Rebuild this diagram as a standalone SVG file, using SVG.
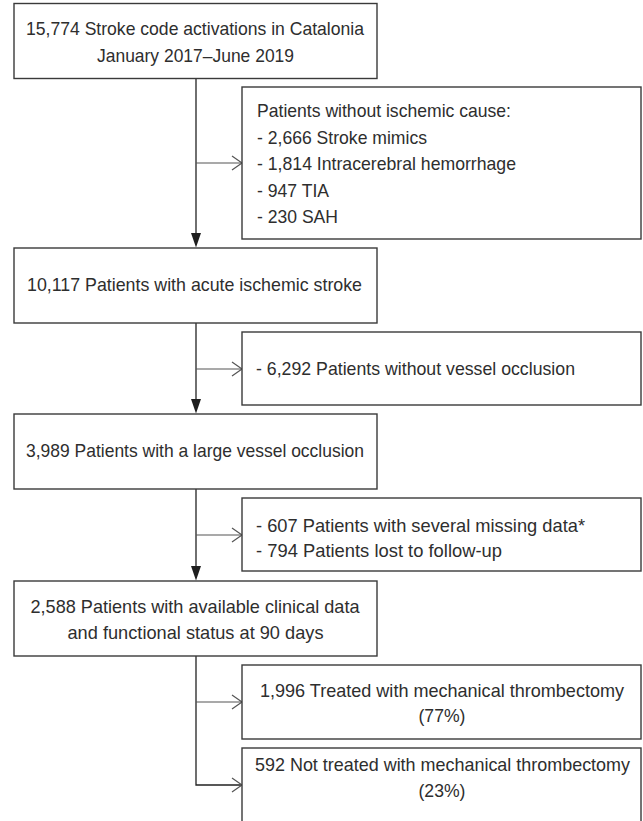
<svg xmlns="http://www.w3.org/2000/svg" width="643" height="821" viewBox="0 0 643 821">
<style>
.box{fill:#fff;stroke:#3a3a3a;stroke-width:1.4}
.t{font-family:"Liberation Sans",Arial,sans-serif;font-size:18.6px;fill:#2e2e2e}
.c{text-anchor:middle}
.v{stroke:#222;stroke-width:1.3;fill:none}
.h{stroke:#555;stroke-width:1.2;fill:none}
.head{fill:#1e1e1e;stroke:none}
</style>
<rect width="643" height="821" fill="#fff"/>
<g id="connectors">
<line class="v" x1="196" y1="78" x2="196" y2="235"/>
<polygon class="head" points="191,233 201,233 196,247.5"/>
<line class="h" x1="196" y1="163" x2="242" y2="163"/>
<polyline class="h" points="232,156 242,163 232,170"/>
<line class="v" x1="196" y1="323" x2="196" y2="400"/>
<line class="h" x1="196" y1="369" x2="242" y2="369"/>
<polyline class="h" points="232,362 242,369 232,376"/>
<polygon class="head" points="191,399 201,399 196,413.5"/>
<line class="v" x1="196" y1="489" x2="196" y2="568"/>
<line class="h" x1="196" y1="535" x2="242" y2="535"/>
<polyline class="h" points="232,528 242,535 232,542"/>
<polygon class="head" points="191,566 201,566 196,580.5"/>
<polyline class="v" points="196,656 196,785 242,785"/>
<line class="h" x1="196" y1="702" x2="242" y2="702"/>
<polyline class="h" points="232,695 242,702 232,709"/>
<polyline class="h" points="232,778 242,785 232,792"/>
</g>
<g id="n1">
<rect class="box" x="14" y="3.5" width="363" height="75"/>
<text class="t c" x="195" y="35" textLength="338" lengthAdjust="spacingAndGlyphs">15,774 Stroke code activations in Catalonia</text>
<text class="t c" x="195.5" y="62" textLength="197" lengthAdjust="spacingAndGlyphs">January 2017–June 2019</text>
</g>
<g id="x1">
<rect class="box" x="242" y="87" width="399" height="152"/>
<text class="t" x="257" y="117" textLength="254" lengthAdjust="spacingAndGlyphs">Patients without ischemic cause:</text>
<text class="t" x="257" y="143.5" textLength="170" lengthAdjust="spacingAndGlyphs">- 2,666 Stroke mimics</text>
<text class="t" x="257" y="170" textLength="259" lengthAdjust="spacingAndGlyphs">- 1,814 Intracerebral hemorrhage</text>
<text class="t" x="257" y="196.5" textLength="72" lengthAdjust="spacingAndGlyphs">- 947 TIA</text>
<text class="t" x="257" y="223" textLength="81" lengthAdjust="spacingAndGlyphs">- 230 SAH</text>
</g>
<g id="n2">
<rect class="box" x="14" y="248" width="363" height="75"/>
<text class="t c" x="194.5" y="291" textLength="335" lengthAdjust="spacingAndGlyphs">10,117 Patients with acute ischemic stroke</text>
</g>
<g id="x2">
<rect class="box" x="242" y="332" width="399" height="73"/>
<text class="t" x="256" y="375" textLength="319" lengthAdjust="spacingAndGlyphs">- 6,292 Patients without vessel occlusion</text>
</g>
<g id="n3">
<rect class="box" x="14" y="414" width="363" height="75"/>
<text class="t c" x="195" y="457" textLength="338" lengthAdjust="spacingAndGlyphs">3,989 Patients with a large vessel occlusion</text>
</g>
<g id="x3">
<rect class="box" x="242" y="498" width="399" height="73"/>
<text class="t" x="256" y="532" textLength="329" lengthAdjust="spacingAndGlyphs">- 607 Patients with several missing data*</text>
<text class="t" x="256" y="557" textLength="246" lengthAdjust="spacingAndGlyphs">- 794 Patients lost to follow-up</text>
</g>
<g id="n4">
<rect class="box" x="14" y="581" width="363" height="75"/>
<text class="t c" x="195" y="613" textLength="329" lengthAdjust="spacingAndGlyphs">2,588 Patients with available clinical data</text>
<text class="t c" x="195.5" y="639" textLength="256" lengthAdjust="spacingAndGlyphs">and functional status at 90 days</text>
</g>
<g id="n5">
<rect class="box" x="242" y="665" width="399" height="74"/>
<text class="t c" x="442" y="697" textLength="364" lengthAdjust="spacingAndGlyphs">1,996 Treated with mechanical thrombectomy</text>
<text class="t c" x="442" y="722" textLength="47" lengthAdjust="spacingAndGlyphs">(77%)</text>
</g>
<g id="n6">
<rect class="box" x="242" y="748" width="399" height="76"/>
<text class="t c" x="442.5" y="771" textLength="375" lengthAdjust="spacingAndGlyphs">592 Not treated with mechanical thrombectomy</text>
<text class="t c" x="442" y="797" textLength="47" lengthAdjust="spacingAndGlyphs">(23%)</text>
</g>
</svg>
